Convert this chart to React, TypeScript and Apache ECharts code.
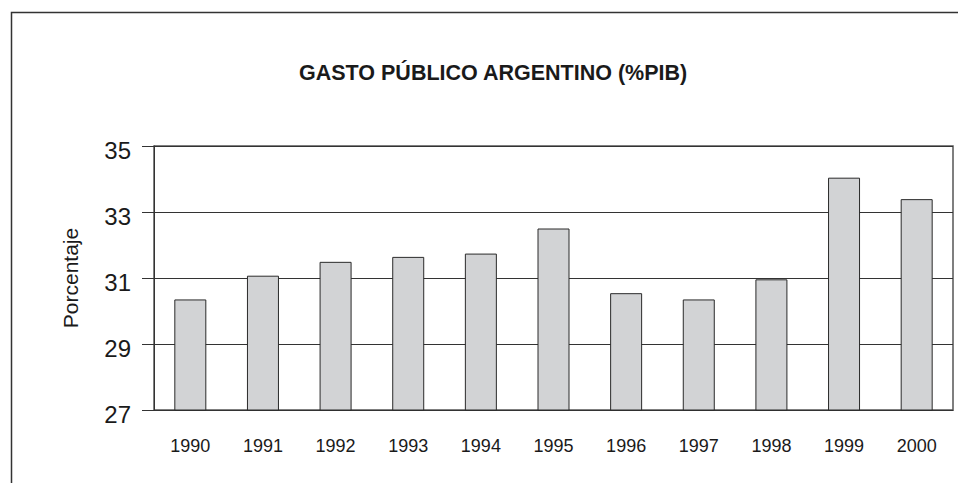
import React, { useEffect, useRef } from "react";
import * as echarts from "echarts";

const years = ["1990", "1991", "1992", "1993", "1994", "1995", "1996", "1997", "1998", "1999", "2000"];
const gasto = [30.35, 31.07, 31.49, 31.64, 31.74, 32.5, 30.54, 30.35, 30.96, 34.04, 33.39];
const yTicks = { min: 27, max: 35, interval: 2 };
const titleText = "GASTO PÚBLICO ARGENTINO (%PIB)";
const yName = "Porcentaje";

export default function App() {
  const ref = useRef<HTMLDivElement>(null);
  useEffect(() => {
    if (!ref.current) return;
    const chart = echarts.init(ref.current, null, { renderer: "svg" });
    const font = "'Liberation Sans', Arial, sans-serif";
    chart.setOption({
      animation: false,
      backgroundColor: "#ffffff",
      title: {
        text: titleText,
        left: 294,
        top: 57,
        textStyle: { fontFamily: font, fontWeight: "bold", fontSize: 21.5, color: "#1a1a1a" },
      },
      graphic: [
        {
          type: "rect",
          shape: { x: 11.5, y: 12.5, width: 1200, height: 1000 },
          style: { fill: "none", stroke: "#333", lineWidth: 1.5 },
          silent: true,
        },
      ],
      grid: {
        left: 154,
        top: 146,
        right: 5,
        bottom: 73,
        show: true,
        borderColor: "#555",
        borderWidth: 1.5,
        containLabel: false,
      },
      xAxis: {
        type: "category",
        data: years,
        axisTick: { show: false },
        axisLine: { lineStyle: { color: "#333", width: 1 } },
        axisLabel: { margin: 27, fontFamily: font, fontSize: 18, color: "#1a1a1a" },
      },
      yAxis: {
        type: "value",
        min: yTicks.min,
        max: yTicks.max,
        interval: yTicks.interval,
        name: yName,
        nameLocation: "middle",
        nameGap: 73,
        nameTextStyle: { fontFamily: font, fontSize: 21, color: "#1a1a1a" },
        axisLine: { show: true, lineStyle: { color: "#333", width: 1 } },
        axisTick: { show: true, inside: false, length: 12, lineStyle: { color: "#333" } },
        axisLabel: { margin: 23, fontFamily: font, fontSize: 24, color: "#1a1a1a", verticalAlign: "top", padding: [-8, 0, 0, 0] },
        splitLine: { show: true, lineStyle: { color: "#333", width: 1 } },
      },
      series: [
        {
          type: "bar",
          data: gasto,
          barWidth: 32,
          itemStyle: { color: "#d2d3d5", borderColor: "#2a2a2a", borderWidth: 1 },
        },
      ],
    });
    return () => chart.dispose();
  }, []);
  return <div ref={ref} style={{ position: "absolute", left: 0, top: 0, width: 958, height: 483 }} />;
}
